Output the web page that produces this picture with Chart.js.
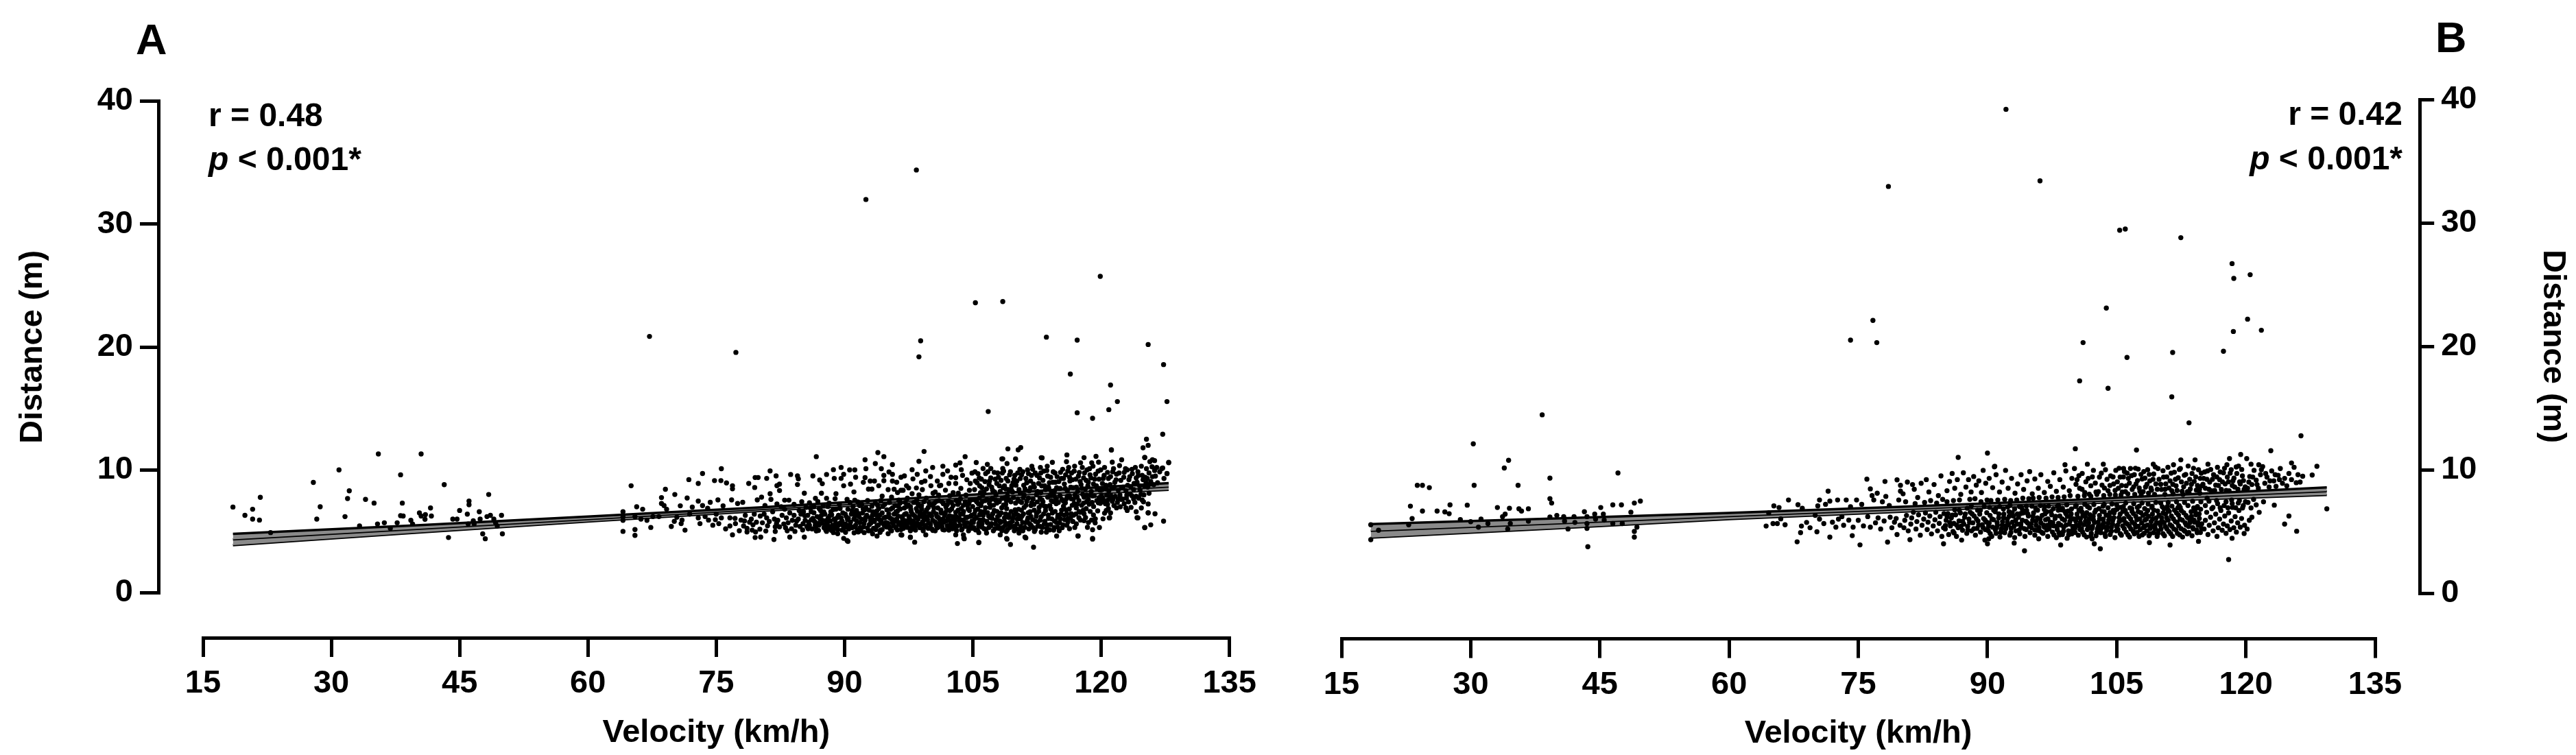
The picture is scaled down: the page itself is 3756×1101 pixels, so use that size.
<!DOCTYPE html>
<html>
<head>
<meta charset="utf-8">
<title>Velocity vs distance</title>
<script src="https://cdn.jsdelivr.net/npm/chart.js@4/dist/chart.umd.min.js"></script>
<style>
  html, body { margin: 0; padding: 0; background: #fff; }
  body { width: 3756px; height: 1101px; position: relative; overflow: hidden; }
  canvas { position: absolute; top: 0; }
  #chartA { left: 0; }
  #chartB { left: 1880px; }
  .note { position: absolute; font: bold 48px/48px "Liberation Sans", Arial, sans-serif; color: #000; white-space: nowrap; }
  .letter { font-size: 63px; line-height: 63px; }
</style>
</head>
<body>
<canvas id="chartA" width="1880" height="1101"></canvas>
<canvas id="chartB" width="1876" height="1101"></canvas>
<div class="note letter" style="left:198px;top:26px">A</div>
<div class="note letter" style="left:3551px;top:23px">B</div>
<div class="note" style="left:304px;top:144px">r = 0.48</div>
<div class="note" style="left:304px;top:208px"><i>p</i> &lt; 0.001*</div>
<div class="note" style="right:253px;top:142px">r = 0.42</div>
<div class="note" style="right:253px;top:207px"><i>p</i> &lt; 0.001*</div>
<script>
const velocityTicks = [15, 30, 45, 60, 75, 90, 105, 120, 135];
const distanceTicks = [0, 10, 20, 30, 40];

// fit line and confidence band, read at a few velocities
const bandVelA = [18.5, 40, 60, 80, 100, 127.9];
const bandMidA = [4.35, 5.2, 6.0, 6.8, 7.6, 8.65];
const bandTopA = [4.8, 5.5, 6.2, 6.95, 7.78, 8.92];
const bandLowA = [3.88, 4.9, 5.8, 6.65, 7.45, 8.38];

const bandVelB = [18.4, 40, 60, 80, 100, 129.4];
const bandMidB = [5.05, 5.65, 6.25, 6.8, 7.4, 8.27];
const bandTopB = [5.6, 6.05, 6.5, 7.0, 7.55, 8.57];
const bandLowB = [4.5, 5.25, 6.0, 6.6, 7.25, 7.96];

// points are velocity,distance pairs, one list per velocity range
const aOutliers = [98.4,34.4, 92.5,32, 119.9,25.75, 105.3,23.6, 108.5,23.7, 67.2,20.86, 77.3,19.56, 98.9,20.5, 98.7,19.2, 113.6,20.8, 117.2,20.56, 125.5,20.2, 127.3,18.57, 116.4,17.8, 121.1,16.9, 121.9,15.56, 127.7,15.56, 120.9,14.9, 106.8,14.75, 117.2,14.65, 119,14.2, 127.2,12.9, 125.3,12.5, 125.5,12, 124.9,11.8, 121.2,11.62];
const aSlow = [18.5,6.98, 19.9,6.3, 20.8,6.8, 20.8,6, 21.6,5.92, 21.7,7.77, 22.9,4.9, 27.9,8.98, 28.7,7, 28.3,6, 30.9,10, 31.6,6.2, 31.9,7.67, 32.1,8.3, 33.3,5.44, 34,7.6, 35,7.3, 35.5,11.3, 35.4,5.6, 36.2,5.7, 36.9,5.25, 37.7,5.7, 38.1,9.6, 38.3,7.3, 38.1,6.28, 38.4,6.25, 39.3,5.9, 39.5,5.6, 40.3,6.5, 40.5,11.3, 40.5,6.25, 41,6.36, 40.95,5.98, 41.6,6.9, 41.7,6.25, 43.2,8.8, 43.7,4.5, 44.2,6, 44.7,6, 45,6.7, 45.9,6.4, 46.1,7.46, 46.1,7.17, 46,5.6, 46.6,5.86, 46.7,5.6, 47.3,6.6, 47.4,6, 47.7,4.8, 48,4.4, 48.4,8, 48.2,6.2, 48.6,6.3, 49,6, 49.2,5.7, 49.4,5.44, 49.9,6.3, 50,4.8];
const a65 = [65.05,8.71, 69.06,8.42, 70.16,8, 68.6,7.75, 71.6,7.71, 71.8,9.21, 73.4,9.71, 72.9,8.9, 74.8,9.13, 75.6,10.1, 75.55,9.13, 76.2,8.94, 76.9,8.71, 76.9,8.46, 78.8,8.9, 79.55,9.38, 79.9,9.38, 79.5,8.57, 64.1,5, 65.5,5.15, 65.5,4.67, 67.35,5.32, 69.75,5.4, 71.35,5.1, 76.9,4.72, 79.55,4.5, 64.1,6.6, 64.1,6.2, 64.1,5.9, 65.7,7, 66.4,6.8, 65.5,6.2, 66.2,6, 66.9,5.9, 68.6,7.27, 69.2,6.8, 67.6,6.2, 68.3,6.2, 70.1,5.82, 70.9,5.63, 71,5.92, 70.8,7.08, 72.2,6.98, 72.9,7.46, 72.9,6.1, 73.1,5.63, 74.1,5.92, 74.3,7.36, 74,6.88, 75.2,7.56, 75.3,5.63, 75.6,6.1, 75.8,7.07, 76.6,6.1, 76.6,5.44, 76.8,7.56, 77.25,5.63, 77.5,7.27, 78.1,7.36, 77.9,5.92, 78.2,5.44, 78.6,5.25, 78.6,4.95, 79.1,6, 79.3,5.53, 79.8,7.56, 79.2,5.1, 78.4,6.3, 77.2,6.05, 74.6,5.5, 73.7,6.2, 79.6,4.95, 79.7,5.75, 76.1,5.2, 75,6.4, 77.7,5.05, 78.9,5.75, 79.45,6.4, 78.3,5.85, 74.9,5.95, 73.4,7.1, 71.9,6.4, 70.4,6.15, 68.9,7.1];
const a80 = [81.3,9.92, 82,9.51, 80.9,9.31, 83.7,9.63, 84.5,9.51, 84.6,9.27, 84.5,8.81, 82.1,8.72, 82.4,8.84, 82.4,8.32, 80.3,7.78, 81.3,8.06, 81.4,7.6, 82.1,7.23, 83,7.54, 83.5,7.54, 80.2,4.53, 81.75,4.34, 83.6,4.53, 80.8,5.03, 80.1,5.18, 81.9,4.99, 81.9,5.37, 82.4,5.37, 83.8,5.21, 80.6,6.4, 80.9,6.1, 81.2,5.8, 81.6,6.6, 81.8,6, 82.2,5.9, 82.7,6.3, 82.9,5.6, 83.2,6.1, 83.4,5.7, 83.6,6.5, 83.9,5.9, 84.1,6.3, 84.3,5.5, 84.6,6, 84.8,5.4, 84.9,6.4, 80.4,5.7, 83.1,5.3, 84.2,5, 84.7,6.7, 84.1,7.2, 82.6,7, 80.7,7.1, 83,6.8, 81,5.45, 82.05,5.65, 80.15,6.25, 83.3,5.05, 84.4,5.85];
const a85 = [85.3,8.1, 86.3,9.51, 87.9,9.63, 88.7,10.02, 89.6,10.2, 88.8,9.31, 87.1,9.18, 87.4,8.88, 89.6,9.31, 89.9,9.64, 89.9,8.71, 89,8.06, 87.3,8.1, 86.6,7.69, 87.9,7.69, 85,7.41, 85.9,7.32, 88.9,7.65, 86.7,11.08, 85.3,4.53, 89.9,4.43, 88.7,4.9, 89.2,4.81, 87.8,5.12, 86.7,5.03, 85.1,5.12, 85.4,5.9, 85.7,6.3, 85.9,5.5, 86.1,6.6, 86.2,5.2, 86.5,5.8, 86.8,6.2, 87,5.5, 87.2,6.7, 87.4,5.9, 87.6,5.3, 87.7,6.4, 88,5.7, 88.1,6.1, 88.3,5.2, 88.4,6.6, 88.6,5.5, 88.8,6, 89,6.8, 89.1,5.4, 89.3,6.3, 89.5,5.7, 89.7,5.1, 89.8,6.5, 85.6,5.4, 86.4,7, 87.5,7.1, 88.2,7.3, 89.4,7.2, 86,6.9, 85.2,6.6, 87.9,5, 88.9,5.9, 89.2,5.15, 86.9,5.65, 85.8,5.75, 87.3,6.3, 88.5,6.35, 89.6,6.1, 85.5,6.95, 86.3,6.05, 87.05,6.85, 88.35,5.85, 89.05,5.6, 89.85,5.45, 86.65,5.35, 88.75,5.25, 87.75,5.55];
const a90 = [90.3,7.6, 91.2,7.54, 94.4,7.87, 90.6,10, 91.2,10, 91.3,9.4, 90.7,8.84, 92.5,10.1, 94.3,10.1, 94.6,9.55, 94.6,9.12, 92.4,9.37, 92.2,8.99, 93,9.09, 93.5,9.09, 94,8.71, 92.8,8.44, 93.2,8.44, 91.1,8.21, 93.9,11.41, 94.6,11.08, 92.4,10.82, 93.6,10.52, 90.3,4.25, 93.8,4.62, 92.3,4.9, 90.4,4.18, 90.9,5.3, 91.6,4.95, 93.1,5.05, 94.4,5.15, 90.1,5.6, 90.2,6.2, 90.4,6.8, 90.5,5.2, 90.7,5.75, 90.8,6.4, 91,7, 91.1,6, 91.3,5.5, 91.4,6.7, 91.5,5.15, 91.7,6.2, 91.8,5.7, 92,7.2, 92.1,6.5, 92.2,5.35, 92.4,5.9, 92.5,6.9, 92.6,6.3, 92.8,5.05, 92.9,5.55, 93,6.1, 93.2,7.05, 93.3,6.6, 93.4,5.25, 93.5,5.8, 93.7,6.35, 93.8,5.45, 94,6.85, 94.1,5.95, 94.2,5.1, 94.4,6.5, 94.5,5.65, 94.7,7.2, 94.8,6.15, 94.9,5.35, 90.65,7.35, 91.55,7.4, 92.7,7.5, 93.6,7.3, 94.25,7.5, 91.9,5.05, 93.05,5.9, 90.35,5.95, 91.25,6.55, 92.35,6.75, 93.85,6.05, 94.65,5.5, 94.95,6.75];
const a95 = [95.6,10.43, 95.2,9.83, 95.6,9.64, 95.6,9.09, 97,9.51, 97.9,10.02, 98.5,9.64, 98,9.27, 99.3,11.5, 98.7,10.7, 99.5,9.92, 99,8.99, 99.4,9.09, 97.25,8.71, 96.6,8.34, 95.1,8.4, 95.8,8.43, 98.4,8.53, 95.5,7.78, 96.2,8.16, 96.85,8.34, 97.5,8.53, 97.9,8.06, 98.7,7.97, 99.1,8.4, 96.1,9, 96.6,9.4, 96.6,4.72, 97.7,4.53, 98.2,4.12, 99.5,4.72, 95.1,4.81, 97.7,4.5, 96.7,4.7, 95.2,5.4, 95.3,6.1, 95.4,6.8, 95.5,5.05, 95.6,5.7, 95.8,6.4, 95.9,7.1, 96,5.3, 96.1,6, 96.2,6.65, 96.3,5.55, 96.5,7.3, 96.6,5.15, 96.7,6.2, 96.8,5.8, 97,6.9, 97.1,5.35, 97.2,6.45, 97.3,5.6, 97.4,7.15, 97.6,6.05, 97.7,5.05, 97.8,6.6, 97.9,5.45, 98,5.85, 98.1,7.35, 98.2,6.25, 98.3,5.1, 98.4,6.85, 98.5,5.65, 98.6,6, 98.8,5.3, 98.9,6.5, 99,7.1, 99.1,5.75, 99.2,5.05, 99.3,6.3, 99.4,5.5, 99.6,6.75, 99.7,5.95, 99.8,5.25, 99.9,7.3, 95.25,7.35, 96.35,7.55, 97.35,7.7, 98.45,7.55, 99.55,7.7, 95.7,5.95, 96.9,5.5, 98.05,5.55, 99.05,6.2];
const a100 = [100.3,10.2, 100.05,9.46, 100.1,8.71, 101.5,10.3, 102.05,9.92, 101.5,9.64, 103,10.39, 103.5,10.57, 103.65,10.02, 103,9.37, 103.8,9.55, 100.85,9.09, 101.1,8.71, 102.2,8.9, 103,8.9, 104.9,9.74, 104.7,8.9, 104.6,8.34, 104.1,11.08, 103,4.72, 103.9,4.72, 104,4.4, 103.2,4.01, 103.95,4.47, 100.6,8.2, 101.8,8.35, 102.7,8.15, 103.6,8.5, 101,7.95, 102.3,7.9, 104.2,7.95, 100.2,5.2, 100.3,5.9, 100.4,6.6, 100.5,7.3, 100.6,5.05, 100.7,5.6, 100.8,6.2, 100.9,6.9, 101,5.35, 101.15,5.95, 101.3,6.5, 101.4,7.4, 101.5,5.15, 101.6,5.75, 101.7,6.3, 101.85,7, 102,5.45, 102.1,6.05, 102.2,5.1, 102.3,6.7, 102.4,5.65, 102.5,7.35, 102.65,6.2, 102.8,5.3, 102.9,5.9, 103,6.55, 103.1,5.05, 103.25,7.2, 103.4,6.1, 103.5,5.5, 103.65,6.85, 103.75,5.2, 103.85,6.4, 104,5.75, 104.1,7.4, 104.2,5.4, 104.35,6.15, 104.5,5.05, 104.6,6.7, 104.75,5.6, 104.85,6.3, 104.95,5.25, 100.35,8.1, 101.25,8.75, 102.45,9.4, 103.3,8.1, 104.3,9.2, 100.75,5.45, 102.55,5.55, 104.4,7.1, 101.95,6.75, 103.55,7.65];
const a105 = [105.4,10.6, 106.7,10.45, 107.1,10.11, 106.2,10.11, 108.4,10.89, 108.5,10.11, 109.1,11.71, 109,10.52, 108.5,10.9, 105.7,4.1, 109.4,3.93, 108.95,4.43, 108.2,4.72, 108.9,4.99, 106.6,4.87, 105.7,4.9, 109,4.37, 105.7,4.09, 105.2,8.4, 105.3,9.1, 105.6,9.7, 105.8,8.7, 106,9.25, 106.3,8.2, 106.5,9.7, 106.9,8.8, 107.1,9.35, 107.3,8.35, 107.5,9.8, 107.8,8.9, 108,9.4, 108.2,8.25, 108.45,9.75, 108.7,8.7, 108.9,9.3, 109.2,8.4, 109.4,9.85, 109.7,8.95, 109.9,9.55, 106.15,7.9, 107.7,7.95, 109.05,7.9, 105.1,5.3, 105.2,6, 105.3,6.7, 105.45,7.4, 105.55,5.1, 105.7,5.65, 105.8,6.35, 105.95,7.1, 106.05,5.35, 106.2,5.95, 106.35,6.6, 106.45,7.5, 106.55,5.15, 106.7,5.7, 106.85,6.25, 107,6.95, 107.1,5.45, 107.25,6.05, 107.4,5.05, 107.5,6.7, 107.65,5.6, 107.8,7.3, 107.9,6.2, 108.05,5.25, 108.15,5.85, 108.3,6.5, 108.4,5.05, 108.6,7.15, 108.7,6.1, 108.8,5.5, 108.95,6.85, 109.05,5.15, 109.2,6.35, 109.35,5.7, 109.45,7.4, 109.6,5.4, 109.7,6.1, 109.85,5.05, 109.95,6.75, 105.9,8.15, 107.3,7.7, 108.75,7.75, 109.65,8.2];
const a110 = [110,10.89, 110.3,11.63, 110.6,11.82, 110.5,10.05, 113,11, 111.9,10.3, 113.7,10.3, 112.9,10.2, 114.3,10.61, 113.1,10.98, 111.1,4.53, 112.1,3.71, 110.4,4.87, 112.2,4.99, 113,4.94, 113.6,4.94, 114.8,4.62, 111.2,4.47, 110.15,9.1, 110.4,8.4, 110.7,9.6, 110.95,8.75, 111.2,9.3, 111.4,10, 111.6,8.3, 111.85,9.55, 112.1,8.85, 112.3,9.75, 112.55,8.25, 112.8,9.35, 113.05,8.7, 113.3,9.9, 113.5,8.4, 113.75,9.5, 113.95,8.95, 114.2,8.2, 114.4,9.85, 114.65,9, 114.85,9.45, 111,7.95, 112.45,8, 114.05,7.9, 110.1,5.2, 110.2,6, 110.35,6.8, 110.45,7.45, 110.6,5.4, 110.75,6.25, 110.85,5.05, 111,6.95, 111.15,5.7, 111.3,7.45, 111.45,6.1, 111.55,5.2, 111.7,6.6, 111.8,5.5, 112,5.95, 112.15,7.2, 112.3,5.15, 112.45,6.45, 112.6,5.75, 112.75,6.95, 112.9,5.4, 113,6.2, 113.2,7.4, 113.35,5.6, 113.5,6.7, 113.65,5.25, 113.85,6.05, 114,7.1, 114.1,5.55, 114.3,6.5, 114.45,5.1, 114.55,5.85, 114.75,7.25, 114.9,5.35, 114.75,7.65, 114.95,6.3];
const a115 = [116,11.22, 118,11, 119.4,11.1, 115.95,10.67, 118.9,10.58, 117.6,10.58, 119.7,10.63, 117.3,4.62, 119,4.43, 119,5.13, 119.8,5.31, 118.4,5.33, 116.3,5.22, 116,5.5, 117.1,5.61, 119.3,5.69, 117.4,6.11, 118,5.87, 116.5,6.43, 118,6.43, 119.1,6.33, 119.6,6.67, 119.9,7.28, 117.1,6.91, 118.6,7.21, 115.6,7.04, 119,7.88, 118,7.78, 117.2,7.78, 116.5,7.65, 114.75,7.65, 117.3,4.63, 119,4.37, 115.1,5.05, 115.2,8.5, 115.35,9.3, 115.5,10.05, 115.7,8.85, 115.85,9.6, 116.05,8.3, 116.2,10.2, 116.35,9.1, 116.55,9.75, 116.75,8.55, 116.9,10.3, 117.05,9.25, 117.25,8.25, 117.45,9.8, 117.65,8.8, 117.8,10.2, 117.95,9.35, 118.15,8.45, 118.35,10, 118.5,9, 118.7,9.6, 118.85,8.25, 119.05,10.3, 119.25,9.25, 119.45,8.7, 119.65,9.9, 119.85,8.35, 115.4,7.6, 116.05,7.85, 117.85,8, 118.75,7.95, 115.15,5.7, 115.3,6.4, 115.45,5.3, 115.75,5.95, 115.9,6.75, 116.15,6.05, 116.7,5.8, 116.85,7.25, 117.55,6.55, 118.25,6.85, 119.5,7.5];
const a120 = [121.2,11.63, 122.4,10.82, 121.3,10.63, 121,6.11, 120.4,6.48, 121.8,6.91, 122.9,6.91, 121.4,7.63, 122,7.63, 122.5,7.63, 123.8,7.63, 124.2,6.11, 123.4,8.03, 124.3,6.1, 120.95,6.1, 120.1,8.4, 120.25,9.3, 120.4,10.2, 120.55,8.75, 120.75,9.8, 120.9,8.3, 121.1,9.45, 121.25,8.55, 121.45,10.1, 121.6,9, 121.8,9.65, 122,8.35, 122.15,10.35, 122.3,9.15, 122.55,8.6, 122.7,9.8, 122.9,8.3, 123.05,10, 123.25,9.2, 123.45,8.65, 123.65,9.7, 123.8,8.4, 124,10.2, 124.2,9, 124.35,9.55, 124.55,8.35, 124.7,10.3, 124.9,9.2, 120.2,7.7, 120.65,7.95, 121.15,7.9, 122.2,7.95, 123,7.95, 124.1,7.85, 120.5,7.25, 120.85,6.85, 124.65,8];
const a125 = [125.1,11, 126.25,10.76, 125.7,10.67, 127.9,10.61, 127.7,9.7, 127.1,10.11, 126,10.83, 125.1,11.02, 127.9,10.58, 127.7,9.71, 127.2,10.15, 125,7.97, 125.6,8.1, 125.5,7.23, 124.95,7.41, 125.5,6.52, 126.3,6.43, 125.1,5.31, 125.8,5.53, 127.3,5.83, 125.5,6.5, 125.1,5.3, 125.15,9.4, 125.3,10.1, 125.45,8.6, 125.6,9.75, 125.8,9.05, 125.95,10.25, 126.15,8.8, 126.35,9.5, 126.6,8.95, 126.85,9.85, 126.5,10.2, 125.25,8.95, 127.35,9.3];
// second pass over the solid part of the cloud
const aDense85 = [85.15,5.62, 85.35,6.28, 85.75,5.22, 86.12,5.94, 86.42,6.52, 86.58,5.49, 86.95,5.08, 87.12,6.03, 87.33,5.66, 87.58,6.58, 87.83,5.88, 88.12,5.41, 88.28,6.27, 88.48,5.07, 88.66,6.77, 88.98,5.66, 89.16,6.12, 89.33,5.52, 89.48,6.86, 89.72,5.83, 89.93,5.26, 90.08,6.41, 90.28,5.4, 90.45,6.05, 90.62,5.52, 90.88,6.68, 91.08,5.36, 91.22,6.22, 91.42,5.84, 91.66,6.45, 91.83,5.3, 91.98,5.98, 92.18,6.83, 92.28,5.62, 92.46,6.13, 92.68,5.28, 92.88,6.72, 93.08,5.68, 93.26,6.3, 93.42,5.92, 93.65,5.15, 93.78,6.66, 93.98,5.52, 94.12,6.32, 94.28,5.8, 94.48,7.02, 94.62,6.1, 94.86,5.72, 90.12,4.92, 91.12,4.88, 93.28,4.8, 94.16,4.92, 88.06,7.02, 91.76,7.1, 93.88,7.1, 86.88,7.42];
const aDense95 = [95.06,5.66, 95.18,6.42, 95.33,5.22, 95.46,6.02, 95.62,6.92, 95.73,5.46, 95.88,5.82, 96.02,6.58, 96.18,5.12, 96.28,6.24, 96.4,5.72, 96.52,6.82, 96.63,5.48, 96.78,6.05, 96.88,5.24, 97.02,6.38, 97.15,5.86, 97.24,7.02, 97.38,5.32, 97.52,6.22, 97.63,5.72, 97.75,6.78, 97.88,5.18, 97.98,6.38, 98.12,5.74, 98.26,5.38, 98.38,6.08, 98.52,6.62, 98.65,5.48, 98.78,6.28, 98.92,5.58, 99.02,6.82, 99.16,5.22, 99.28,5.92, 99.42,6.55, 99.53,5.35, 99.68,6.18, 99.82,5.68, 99.92,6.42, 100.05,5.55, 100.18,6.25, 100.33,5.08, 100.45,6.92, 100.58,5.78, 100.72,6.42, 100.83,5.28, 100.98,6.12, 101.12,5.66, 101.26,6.72, 101.38,5.42, 101.52,6.02, 101.66,5.12, 101.78,6.52, 101.9,5.85, 102.02,7.18, 102.16,5.32, 102.28,6.28, 102.38,5.88, 102.52,6.82, 102.62,5.22, 102.76,6.02, 102.88,5.62, 103.02,6.22, 103.16,5.42, 103.28,6.72, 103.42,5.86, 103.56,6.42, 103.68,5.12, 103.82,5.92, 103.92,6.62, 104.06,5.52, 104.18,6.12, 104.32,5.72, 104.46,6.82, 104.58,5.32, 104.72,6.22, 104.88,5.82, 104.98,7.02, 96.45,7.45, 98.6,7.2, 101.05,7.5, 103.05,7.5, 104.65,7.5];
const aDense105 = [105.06,5.72, 105.18,6.42, 105.32,5.12, 105.42,6.12, 105.58,6.82, 105.68,5.42, 105.82,5.92, 105.92,6.62, 106.08,5.62, 106.22,6.32, 106.32,5.22, 106.48,6.92, 106.62,5.82, 106.72,6.52, 106.88,5.32, 107.02,6.12, 107.18,5.62, 107.32,6.42, 107.42,7.12, 107.58,5.22, 107.72,5.92, 107.82,6.62, 107.98,5.42, 108.12,6.32, 108.22,5.72, 108.38,6.92, 108.52,5.32, 108.68,5.82, 108.82,6.42, 108.92,7.52, 109.08,5.62, 109.22,6.12, 109.32,5.32, 109.48,6.62, 109.62,5.82, 109.78,6.32, 109.88,5.42, 110.02,6.52, 110.16,5.62, 110.28,6.32, 110.42,5.12, 110.58,6.02, 110.68,6.72, 110.82,5.72, 110.92,6.42, 111.08,5.32, 111.22,7.12, 111.38,5.92, 111.48,6.52, 111.62,5.62, 111.78,6.22, 111.88,7.32, 112.02,5.32, 112.18,6.72, 112.32,5.82, 112.42,6.22, 112.58,5.42, 112.72,6.62, 112.88,5.92, 112.98,7.12, 113.12,5.32, 113.28,6.42, 113.42,5.82, 113.58,7.02, 113.72,5.52, 113.82,6.32, 113.98,5.12, 114.12,6.82, 114.22,6.02, 114.38,7.42, 114.52,5.32, 114.62,6.62, 114.78,5.72, 114.92,6.12, 105.75,7.7, 106.6,8.45, 107.55,8.2, 108.55,8.55, 109.52,8.35, 110.55,8.1, 111.75,8.55, 112.95,8.15, 113.85,8.6, 114.55,8.3];
const aUpper105 = [105.25,9.85, 105.5,8.95, 105.75,9.35, 106.05,8.55, 106.42,9.05, 106.75,9.85, 106.95,9.1, 107.2,8.6, 107.62,9.25, 107.9,9.75, 108.1,8.7, 108.3,9.15, 108.6,9.9, 108.85,8.45, 109.1,9.1, 109.3,9.6, 109.55,8.7, 109.82,9.25, 110.05,8.75, 110.25,9.75, 110.55,9.3, 110.85,9.85, 111.1,8.45, 111.3,8.95, 111.5,9.7, 111.75,9.1, 112,10.05, 112.2,8.6, 112.5,9.55, 112.7,8.9, 112.95,9.75, 113.2,9.15, 113.4,8.7, 113.65,9.95, 113.9,8.45, 114.1,9.4, 114.35,9, 114.6,9.75, 114.8,8.55, 115.05,9.05, 115.25,9.8, 115.6,9.3, 115.8,8.5, 116.1,9.9, 116.3,9.4, 116.45,8.6, 116.65,9.2, 116.85,9.9, 117.1,8.6, 117.35,9.5, 117.55,9.05, 117.75,8.5, 118.05,9.75, 118.25,9.15, 118.45,8.7, 118.65,10.1, 118.8,9.35, 119.1,8.85, 119.35,9.65, 119.55,8.45, 119.75,9.25, 119.95,10, 120.15,8.9, 120.35,9.55, 120.6,8.45, 120.85,9.3, 121.05,8.8, 121.35,9.85, 121.55,8.6, 121.75,9.2, 122.1,9.75, 122.4,8.55, 122.65,9.4, 122.85,10.1, 123.1,8.75, 123.35,9.45, 123.6,10.05, 123.85,8.9, 124.1,9.35, 124.3,9.85, 124.5,8.7, 124.8,9.55, 125.05,8.7, 125.4,9.3, 125.75,8.85, 126,9.45, 126.25,9.95];
const aLower115 = [115.25,6.02, 115.38,6.72, 115.55,5.52, 115.68,6.32, 115.82,7.32, 116,6.42, 116.12,5.78, 116.28,6.82, 116.42,6.08, 116.62,7.12, 116.78,6.32, 116.92,5.32, 117.05,6.42, 117.22,7.22, 117.42,6.62, 117.58,5.92, 117.72,7.12, 117.92,6.72, 118.18,6.12, 118.32,7.42, 118.52,5.72, 118.72,6.62, 118.88,5.92, 119.12,7.02, 119.32,6.02, 119.68,7.32, 120.02,7.42, 120.22,6.02, 120.72,7.52];
// the part of the cloud right under the fit line
const aNearLine = [96.3,7.05, 97.1,7.35, 97.7,7.02, 98.3,7.38, 98.9,7.05, 99.3,7.42, 99.8,6.95, 100.2,7.15, 100.75,7.45, 101.55,7.25, 102.15,7.45, 102.7,7.1, 103.4,7.32, 103.9,7.12, 104.55,7.3, 104.92,7.58, 105.3,7.55, 105.65,7.25, 106.1,7.42, 106.65,7.6, 106.95,7.28, 107.15,7.6, 107.65,7.55, 108.1,7.42, 108.45,7.68, 108.85,7.2, 109.25,7.55, 109.75,7.75, 110,7.3, 110.25,7.62, 110.7,7.35, 110.9,7.72, 111.5,7.7, 111.8,7.1, 112.05,7.62, 112.55,7.4, 112.85,7.72, 113.1,7.55, 113.4,7.05, 113.75,7.78, 114.18,7.5, 114.5,7.88, 115,7.35, 115.2,7.9, 115.6,7.45, 115.95,7.65, 116.3,7.9, 116.75,7.6, 116.95,7.95, 117.4,7.5, 117.95,7.3, 118.3,7.95, 118.5,7.6, 118.95,7.35, 119.2,7.9, 119.75,7.75, 120.05,7.95, 120.3,7.45, 120.75,7.2, 121,7.7, 121.3,7.45, 121.65,7.85, 121.9,7.35, 122.35,7.6, 122.7,7.25, 122.95,7.7, 123.2,7.4, 123.6,7.9, 123.95,7.35, 124.4,7.7, 124.8,7.55, 120.6,6.7, 121.1,6.5, 121.5,7.1, 122.25,7, 123.05,6.7, 123.5,6.95, 124.1,6.6, 124.7,6.9];

const bOutliers = [92.15,39.2, 96.1,33.4, 78.5,32.95, 105.35,29.4, 106,29.5, 112.45,28.8, 118.4,26.7, 118.6,25.5, 120.5,25.8, 103.8,23.1, 120.2,22.2, 118.55,21.2, 121.8,21.3, 76.7,22.1, 74.1,20.5, 77.15,20.3, 101.1,20.3, 111.5,19.5, 117.4,19.6, 106.2,19.1, 100.7,17.2, 104,16.6, 111.4,15.9, 113.4,13.8, 126.4,12.75];
const bSlow = [18.4,5.54, 18.4,4.33, 19.3,5.1, 22.8,5.54, 23,7.05, 23.2,6.04, 23.8,8.74, 24.4,8.74, 25.2,8.55, 24.4,6.65, 26.1,6.65, 27,6.58, 27.5,6.44, 27.6,7.15, 28.8,5.96, 29.6,7.13, 30,5.79, 30.3,12.1, 30.4,8.74, 30.9,5.35, 31.2,6, 32,5.64, 33.1,6.94, 33.9,10.14, 34.4,10.76, 33.7,6.2, 34,6.4, 34.5,6.88, 34.3,5.2, 34.6,5.64, 35.5,8.74, 35.6,6.83, 35.9,6.65, 36.7,6.84, 36.7,5.83, 38.3,14.45, 39.2,9.32, 39.2,7.65, 39.4,7.3, 39.2,6.17, 40,6.3, 40.8,6.2, 40.9,5.83, 41.3,5.2, 42,6.2, 42.1,5.73, 43.2,6.6, 43.5,6.2, 43.6,3.76, 43.5,5.25, 43.5,5.64, 44.4,6.4, 44.5,6, 45.1,6.94, 45.4,6.4, 45.5,5.92, 46.5,7.15, 47.1,9.74, 47.5,7.15, 46.5,5.64, 47.6,5.64, 48.6,6.56, 49,7.3, 49.7,7.46, 49,5, 49,4.54, 49.3,5.35];
const b65 = [64.3,5.44, 64.6,6.5, 65.2,7.07, 65.8,6.94, 65.1,5.64, 65.6,5.64, 66.5,5.54, 66,6.02, 66.9,7.55, 68,7.17, 67.9,4.16, 68.3,4.9, 68.4,5.44, 69,5.73, 68.5,6.88, 70.2,4.97, 70.3,7.07, 70.5,7.55, 70.5,6, 71,5.64, 71.5,8.26, 71.7,4.54, 71.7,7.46, 72.4,5.35, 72.6,7.55, 72.7,6, 73.6,7.55, 73.9,5.92, 74.3,4.66, 74.4,5.35, 74.8,7.55, 75.2,3.91, 76,9.24, 76.4,8.45, 76.4,5.35, 76.8,7.55, 78.1,9.05, 78.2,7.84, 78.4,4.14, 79.5,4.75, 79.5,9.18, 79.9,8.74, 79.9,8.26, 79.7,7.55, 69.4,5.3, 70,6.3, 71.2,7.2, 72,5.75, 73.1,6.2, 73.3,5.5, 74.1,7, 75,5.9, 75.6,5.45, 75.4,7.2, 76.1,6.2, 76.6,7.9, 77,5.7, 77.3,6.1, 77.6,5.2, 77.8,7.4, 78,5.85, 78.7,6.15, 78.9,5.3, 79.2,5.75, 79.4,6.05, 79.85,5.5, 78.6,7.1, 77.2,8.1];
const b80 = [81,4.33, 81.5,8.42, 84.9,4, 80.2,8.05, 80.7,9, 81.3,8.8, 81.9,7.75, 82.3,8.9, 82.9,9.2, 83.2,8.2, 83.8,8.8, 84.3,7.9, 84.6,9.5, 80.3,5.3, 80.4,5.9, 80.6,6.3, 80.8,5.05, 81.1,5.6, 81.2,6.1, 81.4,6.55, 81.7,5.2, 81.8,5.8, 82,6.35, 82.2,4.7, 82.4,5.5, 82.6,6, 82.8,6.5, 83,5.15, 83.1,5.75, 83.3,6.25, 83.5,4.8, 83.7,5.45, 83.9,5.95, 84,6.55, 84.2,5.05, 84.4,5.65, 84.5,6.2, 84.7,4.6, 84.9,5.3, 84.95,6.45, 80.5,7.4, 81.6,7.25, 82.7,7.35, 83.4,7.5, 84.1,7.3, 84.8,7.6];
const b85 = [86.6,11, 87,4.3, 89.5,9.95, 89.7,4.3, 85.3,8.3, 85.6,9.05, 85.9,9.7, 86.2,8.5, 86.5,9.2, 86.9,8, 87.2,9.75, 87.5,8.6, 87.8,9.2, 88.1,8.2, 88.4,9.45, 88.7,8.75, 89,9.1, 89.3,8.15, 89.8,8.9, 85.1,5.2, 85.2,5.9, 85.4,6.45, 85.5,4.75, 85.7,5.45, 85.8,6.1, 86,5, 86.1,5.65, 86.3,6.35, 86.4,4.6, 86.6,5.3, 86.7,5.85, 86.85,6.5, 87.1,5.1, 87.25,5.6, 87.35,6.15, 87.6,4.85, 87.7,5.4, 87.85,6, 88,6.55, 88.15,5.05, 88.3,5.7, 88.45,6.25, 88.6,4.7, 88.8,5.25, 88.9,5.85, 89.1,6.4, 89.2,4.95, 89.4,5.55, 89.55,6.05, 89.75,5.15, 89.9,5.75, 85.3,7.4, 86.05,7.5, 86.75,7.55, 87.95,7.6, 88.55,7.65, 89.25,7.4, 89.95,7.55];
const b90 = [90,11.35, 90.8,10.24, 90,4, 93.1,4.06, 94.3,3.43, 90.85,10.28, 90.2,9.3, 90.6,8.55, 91,9.6, 91.4,8.2, 91.7,9, 92.1,9.95, 92.4,8.5, 92.8,9.3, 93.2,8.1, 93.5,8.85, 93.9,9.6, 94.2,8.4, 94.6,9.1, 94.9,9.85, 90.1,5.05, 90.2,5.7, 90.3,6.3, 90.5,4.6, 90.6,5.35, 90.7,5.95, 90.9,6.6, 91,4.85, 91.15,5.5, 91.3,6.1, 91.45,4.55, 91.6,5.2, 91.75,5.8, 91.9,6.4, 92,4.9, 92.2,5.45, 92.3,6, 92.5,6.6, 92.6,4.7, 92.75,5.25, 92.9,5.75, 93,6.25, 93.15,4.5, 93.3,5.05, 93.45,5.6, 93.6,6.15, 93.75,4.8, 93.9,5.35, 94.05,5.9, 94.15,6.5, 94.35,4.6, 94.5,5.15, 94.65,5.7, 94.75,6.25, 94.95,4.9, 90.4,7.5, 91.2,7.55, 92,7.6, 92.7,7.5, 93.4,7.55, 94.1,7.7, 94.8,7.65, 91.05,5.3, 92.45,5.55, 93.85,6.45, 90.15,4.4];
const b95 = [98.5,3.9, 95.2,8.05, 95.5,9.25, 95.9,8.5, 96.2,9.6, 96.6,8.15, 97,9.05, 97.3,8.65, 97.7,9.75, 98,8.25, 98.4,9.2, 98.8,8.6, 99.1,9.9, 99.5,8.3, 99.8,9.3, 95.1,5.3, 95.25,5.9, 95.35,6.5, 95.5,4.7, 95.65,5.5, 95.8,6.1, 95.95,4.4, 96.05,5.05, 96.2,5.7, 96.35,6.3, 96.45,4.85, 96.6,5.35, 96.75,5.95, 96.9,6.6, 97,4.6, 97.15,5.2, 97.3,5.75, 97.45,6.35, 97.55,4.95, 97.7,5.45, 97.85,6.05, 98,4.5, 98.1,5.15, 98.25,5.65, 98.4,6.25, 98.55,6.75, 98.7,4.75, 98.85,5.35, 98.95,5.9, 99.1,6.45, 99.25,4.45, 99.4,5.05, 99.5,5.6, 99.65,6.15, 99.8,4.8, 99.9,5.4, 95.3,7.7, 96,7.75, 96.8,7.7, 97.5,7.8, 98.2,7.75, 98.9,7.8, 99.6,7.9, 95.75,5.1, 96.95,5.5, 98.3,4.9, 99.35,6.65];
const b100 = [100.2,11.7, 101.6,10.45, 103.45,10.45, 99,10.4, 102.4,4, 103.1,3.6, 100.1,10.1, 100.4,9.2, 100.7,8.5, 101,9.7, 101.3,8.15, 101.7,9.3, 102,8.7, 102.3,9.95, 102.6,8.2, 103,9.4, 103.3,8.75, 103.7,10, 104,8.3, 104.3,9.5, 104.65,8.85, 104.9,9.95, 100.15,5.25, 100.25,5.85, 100.4,6.4, 100.55,4.7, 100.65,5.45, 100.8,6.05, 100.95,6.6, 101.05,4.95, 101.2,5.55, 101.35,6.2, 101.5,4.55, 101.6,5.15, 101.75,5.7, 101.9,6.35, 102.05,4.85, 102.2,5.4, 102.3,5.95, 102.45,6.55, 102.6,4.65, 102.75,5.2, 102.85,5.75, 103,6.3, 103.15,4.9, 103.3,5.5, 103.45,6, 103.55,6.6, 103.7,4.6, 103.85,5.1, 104,5.65, 104.15,6.2, 104.25,4.75, 104.4,5.35, 104.55,5.9, 104.7,6.5, 104.8,4.5, 104.95,5.05, 100.5,7.85, 101.25,7.9, 102,7.85, 102.7,8, 103.5,7.9, 104.2,8, 104.85,7.95, 100.75,5.15, 102.15,4.4, 103.65,5.35, 104.6,6.7];
const b105 = [107.3,11.6, 105.8,10.1, 109.25,10.45, 108.8,4.1, 105.2,8.5, 105.4,9.4, 105.65,8.2, 105.9,9.85, 106.1,8.7, 106.35,9.3, 106.6,10.1, 106.8,8.4, 107.05,9.6, 107.25,8.85, 107.5,10.05, 107.7,8.25, 107.95,9.25, 108.15,9.85, 108.35,8.6, 108.6,10, 108.85,9.1, 109.05,8.35, 109.3,9.65, 109.55,8.85, 109.8,10.1, 105.15,5.15, 105.3,5.8, 105.4,6.4, 105.55,4.7, 105.7,5.45, 105.85,6.05, 106,6.7, 106.1,4.95, 106.25,5.6, 106.4,6.2, 106.5,4.55, 106.65,5.2, 106.8,5.75, 106.95,6.45, 107.05,4.8, 107.2,5.35, 107.35,5.95, 107.5,6.6, 107.6,4.6, 107.75,5.15, 107.9,5.7, 108.05,6.3, 108.2,4.85, 108.3,5.45, 108.45,6, 108.6,6.7, 108.75,4.65, 108.9,5.25, 109,5.8, 109.15,6.4, 109.3,4.9, 109.45,5.5, 109.6,6.1, 109.7,4.6, 109.85,5.05, 109.95,5.7, 105.5,7.95, 106.3,8.05, 107.1,8, 107.85,7.95, 108.7,8.1, 109.4,8, 105.05,6.8, 106.75,6.85, 108.5,5.05, 109.75,6.65];
const b110 = [111.6,10.4, 112.45,10.8, 114.1,10.8, 111.2,3.9, 114.5,4.2, 110.2,8.4, 110.45,9.4, 110.7,8.85, 110.95,10.2, 111.2,9.1, 111.4,8.3, 111.7,9.8, 111.9,8.7, 112.15,9.35, 112.4,10.1, 112.6,8.25, 112.85,9.55, 113.1,8.9, 113.3,10.3, 113.55,8.45, 113.75,9.7, 114,9.05, 114.25,8.35, 114.5,10, 114.7,9.3, 114.9,8.7, 110.15,5.2, 110.25,5.85, 110.4,6.5, 110.55,4.65, 110.65,5.4, 110.8,6.1, 110.95,6.75, 111.05,5, 111.2,5.55, 111.35,6.25, 111.5,4.6, 111.65,5.2, 111.8,5.8, 111.95,6.5, 112.05,4.85, 112.2,5.45, 112.35,6, 112.5,6.7, 112.65,4.55, 112.8,5.1, 112.95,5.7, 113.05,6.3, 113.2,4.8, 113.35,5.4, 113.5,5.95, 113.65,6.6, 113.75,4.65, 113.9,5.2, 114.05,5.75, 114.2,6.35, 114.35,4.9, 114.45,5.5, 114.6,6.05, 114.75,6.8, 114.85,5.25, 110.6,8, 111.55,8.05, 112.7,8, 113.4,8.15, 114.65,8.1, 110.3,7, 112.25,7.1, 113.95,6.9];
const b115 = [115.6,10.45, 117.8,10.4, 118.1,10.9, 119.4,11.24, 118,2.72, 118.4,4.45, 119.8,4.83, 115.1,9.3, 115.3,8.5, 115.55,9.9, 115.8,9, 116,8.3, 116.25,9.6, 116.5,8.75, 116.7,10.2, 116.95,9.2, 117.15,8.4, 117.4,9.75, 117.6,8.85, 117.85,9.4, 118.05,8.3, 118.3,10, 118.5,9.1, 118.7,8.6, 118.95,9.7, 119.15,10.3, 119.35,8.85, 119.6,9.5, 119.8,8.4, 115.15,5.2, 115.3,5.9, 115.45,6.55, 115.6,4.75, 115.75,5.5, 115.9,6.15, 116.05,6.85, 116.2,5.05, 116.35,5.7, 116.5,6.4, 116.65,4.6, 116.8,5.3, 116.95,6, 117.1,6.7, 117.25,5.1, 117.4,5.6, 117.55,6.25, 117.7,4.85, 117.85,5.45, 118,6.5, 118.15,5.15, 118.3,5.85, 118.45,6.95, 118.6,5.3, 118.75,6.2, 118.9,4.95, 119.05,5.7, 119.2,6.7, 119.35,5.35, 119.5,6.05, 119.7,7.1, 119.85,5.5, 115.5,7.7, 116.6,7.5, 117.7,7.4, 118.35,7.55, 119.25,7.5, 119.95,7.4];
const b120 = [120.1,10.9, 120.6,10.45, 121.5,10.4, 122.9,11.54, 125.3,10.55, 128.25,10.28, 120.7,6.15, 123.3,7.13, 125,6.25, 124.5,5.6, 125.9,5.02, 129.4,6.83, 127.7,9.57, 126.6,9.47, 120.2,8.5, 120.45,9.45, 120.7,8.8, 120.95,9.95, 121.2,9.15, 121.45,8.5, 121.7,9.6, 121.95,10.25, 122.2,8.9, 122.45,9.4, 122.7,8.6, 123,9.9, 123.25,9.1, 123.5,8.65, 123.75,9.55, 124,10.1, 124.25,8.9, 124.5,9.3, 124.75,8.7, 125,9.7, 125.3,9.2, 125.6,10.2, 125.85,8.95, 126.05,9.6, 126.3,9, 120.25,7.35, 120.6,6.9, 120.9,7.6, 121.2,7.15, 121.55,6.55, 120.4,5.9, 120.15,5.2, 122.05,7.4];
// second pass over the solid part of the cloud
const bDense85 = [85.12,5.48, 85.32,6.18, 85.62,5.72, 85.92,6.32, 86.12,4.88, 86.42,5.52, 86.72,6.72, 86.92,5.42, 87.12,5.82, 87.42,6.42, 87.72,5.12, 87.92,5.72, 88.22,6.42, 88.42,5.22, 88.72,6.02, 88.98,5.52, 89.18,6.72, 89.48,5.32, 89.72,5.92, 89.92,6.52, 90.12,5.42, 90.32,4.82, 90.52,6.02, 90.72,6.72, 90.92,5.12, 91.12,5.72, 91.32,6.42, 91.52,4.92, 91.72,5.52, 91.88,6.12, 92.12,5.22, 92.32,5.72, 92.52,6.22, 92.72,4.92, 92.88,6.52, 93.08,5.42, 93.28,5.92, 93.48,6.42, 93.68,5.12, 93.88,5.62, 94.08,6.72, 94.28,5.22, 94.48,5.82, 94.68,6.42, 94.88,5.42, 91.42,7.02, 92.62,7.12, 93.72,7.02, 94.52,7.05, 89.62,7.02, 88.12,7.05];
const bDense95 = [95.08,5.62, 95.28,6.22, 95.48,5.12, 95.62,5.82, 95.82,6.72, 95.98,5.32, 96.12,6.02, 96.32,4.92, 96.52,5.52, 96.68,6.42, 96.88,5.12, 97.02,6.02, 97.22,5.42, 97.38,6.62, 97.58,5.72, 97.72,4.72, 97.92,6.22, 98.08,5.42, 98.22,6.72, 98.38,4.72, 98.52,5.52, 98.68,6.02, 98.82,5.02, 98.98,6.62, 99.12,5.52, 99.28,6.22, 99.42,4.72, 99.58,5.82, 99.72,6.42, 99.88,5.12, 100.02,6.02, 100.18,4.92, 100.32,5.52, 100.48,6.12, 100.62,6.72, 100.78,5.72, 100.92,5.22, 101.08,6.32, 101.22,4.72, 101.38,5.82, 101.52,6.52, 101.68,5.42, 101.82,6.02, 101.98,4.62, 102.12,5.22, 102.28,6.22, 102.42,5.72, 102.58,6.72, 102.72,4.92, 102.88,5.42, 103.02,6.02, 103.18,5.22, 103.32,6.62, 103.48,5.72, 103.62,4.82, 103.78,6.32, 103.92,5.32, 104.08,5.92, 104.22,6.52, 104.38,5.02, 104.52,5.62, 104.68,6.12, 104.82,6.72, 104.98,5.42, 96.62,7.02, 98.12,7.05, 100.22,7.02, 101.62,7.02, 103.42,7.05];
const bDense105 = [105.12,5.52, 105.28,6.12, 105.42,4.82, 105.58,5.92, 105.72,6.62, 105.88,5.22, 106.02,5.72, 106.18,6.42, 106.32,4.72, 106.48,5.42, 106.62,6.02, 106.78,6.62, 106.92,5.02, 107.08,5.62, 107.22,6.22, 107.38,4.92, 107.52,5.42, 107.68,6.02, 107.82,6.52, 107.98,4.72, 108.12,5.32, 108.28,5.92, 108.42,6.42, 108.58,5.52, 108.72,6.22, 108.88,4.82, 109.02,5.42, 109.18,6.02, 109.32,6.72, 109.48,5.22, 109.62,5.72, 109.78,4.82, 109.92,6.32, 110.08,5.52, 110.22,6.12, 110.38,4.82, 110.52,5.72, 110.68,6.42, 110.82,5.22, 110.98,5.92, 111.12,6.62, 111.28,4.82, 111.42,5.42, 111.58,6.02, 111.72,6.72, 111.88,5.12, 112.02,5.72, 112.18,6.32, 112.32,4.72, 112.48,5.22, 112.62,5.92, 112.78,6.52, 112.92,5.02, 113.08,5.52, 113.22,6.12, 113.38,4.92, 113.52,5.72, 113.68,6.22, 113.82,5.32, 113.98,5.92, 114.12,6.62, 114.28,5.12, 114.42,5.72, 114.58,6.42, 114.72,4.92, 114.88,5.62, 105.78,7.02, 107.62,7.05, 109.12,7.05, 110.88,7.02, 112.12,6.92, 114.38,7.02];
const bUpper105 = [100.28,8.82, 100.62,9.52, 100.98,8.42, 101.42,9.02, 101.82,8.02, 102.18,9.42, 102.52,8.92, 102.88,8.22, 103.22,9.72, 103.58,8.52, 103.88,9.22, 104.22,8.72, 104.58,9.42, 104.82,8.32, 105.08,9.02, 105.28,10.12, 105.58,8.72, 105.78,9.42, 106.02,8.22, 106.22,9.72, 106.48,8.92, 106.72,9.52, 106.98,8.62, 107.18,10.12, 107.42,9.12, 107.62,8.52, 107.82,9.62, 108.08,8.22, 108.28,9.32, 108.52,8.82, 108.78,9.62, 108.98,8.52, 109.22,9.22, 109.48,10.22, 109.72,8.42, 109.92,9.22, 110.12,8.82, 110.38,9.92, 110.62,8.42, 110.82,9.42, 111.08,8.52, 111.32,9.72, 111.52,8.82, 111.82,9.22, 112.02,8.32, 112.28,10.02, 112.52,9.02, 112.78,8.62, 113.02,9.62, 113.22,8.22, 113.48,9.22, 113.68,8.82, 113.92,10.12, 114.18,9.42, 114.38,8.72, 114.62,8.42, 114.82,9.72, 115.02,8.82, 115.22,9.82, 115.48,9.22, 115.72,8.42, 115.92,10.02, 116.12,9.22, 116.38,8.32, 116.62,9.42, 116.82,8.72, 117.02,9.82, 117.28,9.02, 117.52,10.12, 117.72,8.32, 117.98,9.02, 118.18,9.72, 118.42,8.72, 118.62,9.32, 118.88,10.22, 119.08,8.42, 119.28,9.02, 119.52,10.02, 119.72,9.12, 119.92,8.62, 120.35,9, 120.8,9.4, 121.3,8.8, 121.8,10, 122.3,9.7, 122.8,9.1, 123.4,9.6, 123.9,9.2];
// the part of the cloud right under the fit line
const bNearLine = [86.2,6.75, 87.65,6.88, 88.85,6.72, 90.25,6.95, 90.95,6.85, 91.85,6.82, 92.35,6.98, 93.15,6.82, 93.95,6.95, 94.55,6.7, 95.15,7.05, 95.6,6.85, 96.15,7.1, 96.6,6.78, 97.1,7.05, 97.65,6.85, 98.25,7.1, 98.7,6.88, 99.2,7.15, 99.75,6.82, 100.3,7.1, 100.85,6.88, 101.3,7.2, 101.85,6.9, 102.35,7.18, 102.95,6.85, 103.55,7.2, 104,6.92, 104.45,7.22, 105,7.15, 105.45,6.95, 106.05,7.3, 106.55,6.9, 106.98,7.25, 107.4,6.95, 107.95,7.3, 108.25,6.85, 108.65,7.22, 109.08,6.95, 109.55,7.35, 110.12,7.3, 110.5,6.85, 110.98,7.35, 111.42,7.05, 111.95,7.4, 112.38,6.95, 112.88,7.35, 113.28,7.1, 113.82,7.45, 114.28,6.92, 114.78,7.4, 115.3,7.1, 115.72,7.45, 116.18,6.95, 116.72,7.25, 117.02,6.92, 117.48,7.1, 117.92,6.92, 118.42,7.25, 118.82,6.92, 119.12,7.3, 119.62,6.9];

function pairs(flat) {
  const pts = [];
  for (let i = 0; i < flat.length; i += 2) pts.push({ x: flat[i], y: flat[i + 1] });
  return pts;
}

function curve(xs, ys) {
  return xs.map((x, i) => ({ x, y: ys[i] }));
}

// moves the axes away from the plot, prism style detached axes
const axisShift = {
  id: "axisShift",
  afterLayout(chart, args, opts) {
    chart.scales.x.top += opts.x;
    chart.scales.x.bottom += opts.x;
    chart.scales.y.left += opts.y;
    chart.scales.y.right += opts.y;
  }
};

const tickFont = { family: "'Liberation Sans', Arial, sans-serif", size: 47, weight: "bold" };

function bandSet(xs, ys, fill) {
  return {
    type: "scatter",
    data: curve(xs, ys),
    showLine: true,
    borderColor: "#000",
    borderWidth: 3.5,
    backgroundColor: "#8a8a8a",
    fill,
    pointRadius: 0,
    order: 2
  };
}

function makeChart(id, points, band, layout) {
  return new Chart(document.getElementById(id), {
    type: "scatter",
    data: {
      datasets: [
        bandSet(band.xs, band.top, "+1"),
        bandSet(band.xs, band.mid, "+1"),
        bandSet(band.xs, band.low, false),
        {
          data: pairs(points),
          backgroundColor: "#000",
          borderWidth: 0,
          pointRadius: 3.7,
          order: 1
        }
      ]
    },
    options: {
      responsive: false,
      animation: false,
      events: [],
      layout: { padding: layout.padding },
      plugins: {
        legend: { display: false },
        tooltip: { enabled: false },
        axisShift: layout.shift
      },
      scales: {
        x: {
          type: "linear",
          min: 15,
          max: 135,
          afterBuildTicks: s => { s.ticks = velocityTicks.map(value => ({ value })); },
          afterFit: s => { s.height = layout.xHeight; },
          border: { color: "#000", width: 5 },
          grid: { drawOnChartArea: false, color: "#000", lineWidth: 5, tickLength: 28 },
          ticks: { color: "#000", font: tickFont, padding: 11, maxRotation: 0, autoSkip: false },
          title: { display: true, text: "Velocity (km/h)", color: "#000", font: tickFont, padding: 0 }
        },
        y: {
          type: "linear",
          position: layout.yPos,
          min: 0,
          max: 40,
          afterBuildTicks: s => { s.ticks = distanceTicks.map(value => ({ value })); },
          afterFit: s => { s.width = layout.yWidth; },
          border: { color: "#000", width: 5 },
          grid: { drawOnChartArea: false, color: "#000", lineWidth: 5, tickLength: layout.yTick },
          ticks: { color: "#000", font: tickFont, padding: 10, autoSkip: false },
          title: { display: true, text: "Distance (m)", color: "#000", font: tickFont, padding: 0 }
        }
      }
    },
    plugins: [axisShift]
  });
}

const pointsA = [].concat(aOutliers, aSlow, a65, a80, a85, a90, a95, a100, a105, a110, a115, a120, a125, aDense85, aDense95, aDense105, aUpper105, aLower115, aNearLine);
const pointsB = [].concat(bOutliers, bSlow, b65, b80, b85, b90, b95, b100, b105, b110, b115, b120, bDense85, bDense95, bDense105, bUpper105, bNearLine);

makeChart("chartA", pointsA, { xs: bandVelA, mid: bandMidA, top: bandTopA, low: bandLowA }, {
  padding: { left: 85, right: 87.4, top: 147.5, bottom: 69.5 },
  shift: { x: 65.5, y: -65 },
  xHeight: 167,
  yWidth: 211,
  yPos: "left",
  yTick: 27
});

makeChart("chartB", pointsB, { xs: bandVelB, mid: bandMidB, top: bandTopB, low: bandLowB }, {
  padding: { left: 76, right: 72, top: 145, bottom: 69 },
  shift: { x: 66.6, y: 65.7 },
  xHeight: 167,
  yWidth: 221,
  yPos: "right",
  yTick: 20.5
});
</script>
</body>
</html>
